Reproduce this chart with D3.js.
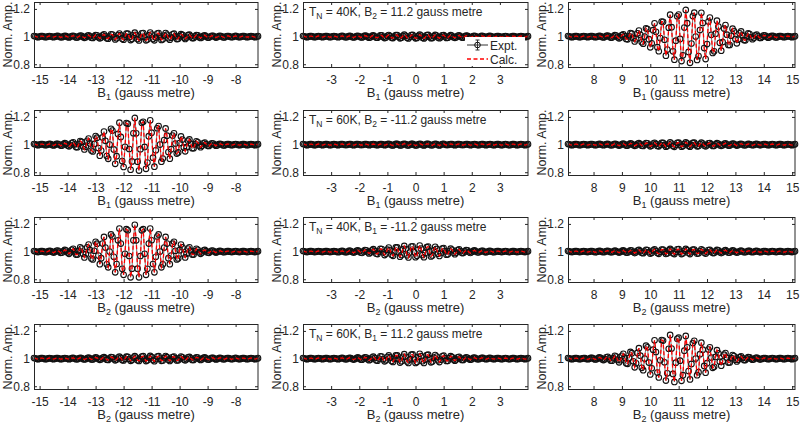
<!DOCTYPE html>
<html><head><meta charset="utf-8">
<script src="https://cdn.jsdelivr.net/npm/d3@7"></script>
<style>
body{margin:0;background:#fff}
svg{display:block}
text{font-family:"Liberation Sans",Arial,Helvetica,sans-serif;fill:#262626}
</style>
</head><body>
<svg id="chart" width="800" height="426"></svg>
<script>
// ---- data ----
const xDomains = [[-15.2, -7.2], [-4, 4], [7.1, 15.1]];
const xTicks = [[-15, -14, -13, -12, -11, -10, -9, -8], [-3, -2, -1, 0, 1, 2, 3], [8, 9, 10, 11, 12, 13, 14, 15]];
const yDomain = [0.78, 1.25];
const yTicks = [0.8, 1, 1.2];
const yTickLabels = ["0.8", "1", "1.2"];
const xLabelSub = ["1", "1", "2", "2"];
const annTemp = ["40K", "60K", "40K", "60K"];
const annField = ["2", "2", "1", "1"];
const annValue = ["11.2", "-11.2", "-11.2", "11.2"];
const legendLabels = ["Expt.", "Calc."];

const r1c1 = [1.004,1.002,.997,.996,.999,1.003,1.003,1.000,.996,.997,
1.001,1.004,1.002,.998,.996,.999,1.004,1.005,1.000,.995,
.996,1.001,1.005,1.003,.997,.994,.998,1.004,1.006,1.001,
.994,.994,1.001,1.007,1.005,.997,.991,.996,1.006,1.009,
1.002,.992,.990,1.001,1.011,1.009,.996,.987,.993,1.008,
1.016,1.004,.987,.985,1.000,1.016,1.015,.995,.979,.988,
1.011,1.022,1.008,.984,.977,.998,1.022,1.021,.996,.975,
.983,1.011,1.028,1.012,.982,.972,.995,1.024,1.025,.997,
.973,.979,1.010,1.029,1.015,.983,.973,.993,1.022,1.025,
1.000,.976,.980,1.007,1.025,1.014,.988,.977,.992,1.016,
1.021,1.002,.982,.984,1.003,1.017,1.012,.993,.983,.993,
1.010,1.014,1.002,.989,.989,1.001,1.011,1.008,.996,.990,
.995,1.005,1.009,1.002,.993,.993,1.000,1.006,1.005,.998,
.993,.997,1.003,1.006,1.002,.996,.994,1.000,1.004,1.004,
.999,.995,.997,1.002,1.005,1.002,.997,.996,.999,1.003,
1.003,1.000,.996,.997,1.001,1.004,1.002,.998,.996,.999,1.003];
const r1c2 = [1.004,1.002,.997,.996,.999,1.003,1.003,1.000,.996,.997,
1.001,1.004,1.002,.998,.996,.999,1.003,1.004,1.000,.996,
.997,1.001,1.004,1.002,.998,.995,.998,1.004,1.005,1.000,
.996,.996,1.001,1.005,1.003,.997,.994,.997,1.004,1.006,
1.001,.995,.994,1.001,1.007,1.005,.997,.992,.996,1.005,
1.009,1.002,.993,.992,1.000,1.009,1.008,.997,.989,.994,
1.006,1.011,1.004,.991,.989,.999,1.010,1.011,.998,.987,
.992,1.005,1.014,1.006,.991,.986,.998,1.011,1.012,.999,
.987,.990,1.005,1.014,1.007,.992,.986,.996,1.011,1.012,
1.000,.988,.990,1.003,1.012,1.007,.994,.988,.996,1.008,
1.010,1.001,.990,.992,1.002,1.010,1.006,.996,.991,.996,
1.006,1.008,1.001,.993,.993,1.001,1.007,1.005,.998,.994,
.997,1.003,1.006,1.002,.995,.995,1.000,1.005,1.004,.999,
.995,.997,1.003,1.005,1.002,.996,.995,1.000,1.003,1.003,
.999,.996,.997,1.002,1.004,1.002,.997,.996,.999,1.003,
1.003,1.000,.996,.997,1.001,1.004,1.002,.998,.996,.999,1.003];
const r1c3 = [1.004,1.002,.997,.996,.999,1.003,1.003,1.000,.996,.997,
1.001,1.004,1.002,.998,.996,.999,1.003,1.004,1.000,.996,
.997,1.001,1.005,1.003,.997,.994,.998,1.005,1.007,1.001,
.993,.993,1.002,1.010,1.007,.995,.987,.994,1.010,1.016,
1.003,.983,.980,1.002,1.025,1.021,.989,.965,.981,1.024,
1.044,1.013,.959,.948,1.000,1.060,1.054,.981,.922,.951,
1.046,1.096,1.035,.923,.894,.989,1.109,1.107,.977,.862,
.906,1.064,1.158,1.068,.893,.833,.970,1.147,1.159,.983,
.823,.865,1.065,1.193,1.097,.889,.810,.950,1.148,1.173,
1.000,.831,.859,1.047,1.172,1.098,.917,.837,.946,1.109,
1.138,1.013,.882,.893,1.021,1.115,1.072,.955,.898,.960,
1.058,1.083,1.014,.939,.939,1.006,1.057,1.040,.982,.951,
.978,1.024,1.037,1.009,.975,.973,1.000,1.023,1.018,.995,
.981,.990,1.008,1.015,1.004,.991,.990,.999,1.009,1.007,
.999,.992,.996,1.003,1.006,1.003,.996,.994,.999,1.004,
1.003,1.000,.996,.997,1.001,1.004,1.002,.998,.996,.999,1.003];
const r2c1 = [1.004,1.002,.997,.996,.999,1.003,1.003,1.000,.996,.997,
1.002,1.005,1.003,.997,.994,.998,1.005,1.006,1.000,.993,
.993,1.003,1.010,1.006,.994,.987,.995,1.011,1.016,1.002,
.982,.981,1.004,1.026,1.019,.987,.965,.984,1.027,1.044,
1.008,.957,.950,1.005,1.062,1.050,.975,.920,.957,1.052,
1.094,1.027,.917,.897,1.000,1.114,1.101,.965,.861,.916,
1.077,1.158,1.055,.881,.838,.984,1.156,1.150,.968,.818,
.878,1.081,1.193,1.081,.876,.812,.967,1.157,1.165,.983,
.825,.870,1.061,1.176,1.086,.905,.840,.959,1.118,1.134,
1.000,.876,.899,1.033,1.117,1.064,.946,.898,.967,1.065,
1.081,1.007,.935,.943,1.011,1.059,1.036,.978,.951,.981,
1.027,1.037,1.006,.974,.974,1.002,1.024,1.016,.993,.981,
.992,1.009,1.015,1.003,.991,.990,1.000,1.009,1.007,.998,
.992,.996,1.004,1.006,1.002,.996,.994,1.000,1.004,1.003,
.999,.996,.997,1.002,1.004,1.002,.997,.996,.999,1.003,
1.003,1.000,.996,.997,1.001,1.004,1.002,.998,.996,.999,1.003];
const r2c2 = [1.004,1.002,.997,.996,.999,1.003,1.003,1.000,.996,.997,
1.001,1.004,1.002,.998,.996,.999,1.003,1.004,1.000,.996,
.997,1.001,1.004,1.002,.998,.996,.999,1.003,1.004,1.000,
.997,.997,1.001,1.004,1.003,.998,.996,.998,1.003,1.004,
1.001,.997,.997,1.000,1.004,1.003,.999,.996,.998,1.002,
1.004,1.001,.997,.996,1.000,1.004,1.003,.999,.996,.998,
1.003,1.006,1.002,.996,.994,.999,1.005,1.005,.999,.994,
.996,1.003,1.006,1.003,.996,.994,.999,1.005,1.005,.999,
.994,.996,1.002,1.006,1.003,.997,.994,.998,1.005,1.005,
1.000,.995,.995,1.002,1.006,1.003,.997,.994,.998,1.004,
1.006,1.000,.997,.997,1.001,1.004,1.003,.998,.996,.998,
1.003,1.004,1.001,.997,.997,1.000,1.004,1.003,.999,.996,
.998,1.002,1.004,1.001,.997,.996,1.000,1.004,1.003,.999,
.996,.998,1.002,1.004,1.001,.997,.996,1.000,1.003,1.003,
.999,.996,.997,1.002,1.004,1.002,.997,.996,.999,1.003,
1.003,1.000,.996,.997,1.001,1.004,1.002,.998,.996,.999,1.003];
const r2c3 = [1.004,1.002,.997,.996,.999,1.003,1.003,1.000,.996,.997,
1.001,1.004,1.002,.998,.996,.999,1.003,1.004,1.000,.996,
.997,1.001,1.005,1.003,.998,.995,.998,1.004,1.005,1.000,
.995,.995,1.001,1.006,1.004,.997,.993,.997,1.004,1.007,
1.001,.993,.993,1.001,1.008,1.006,.997,.991,.996,1.006,
1.010,1.003,.992,.990,1.000,1.011,1.009,.997,.987,.993,
1.007,1.013,1.005,.990,.987,.999,1.013,1.012,.997,.985,
.990,1.006,1.016,1.007,.990,.984,.997,1.013,1.014,.999,
.985,.989,1.005,1.016,1.008,.991,.985,.996,1.012,1.014,
1.000,.987,.989,1.004,1.014,1.007,.994,.987,.996,1.009,
1.011,1.001,.990,.991,1.002,1.010,1.006,.996,.991,.996,
1.006,1.009,1.001,.993,.993,1.001,1.007,1.005,.998,.993,
.997,1.003,1.006,1.002,.995,.995,1.000,1.005,1.004,.999,
.995,.997,1.003,1.005,1.002,.997,.996,1.000,1.003,1.003,
.999,.996,.997,1.002,1.004,1.002,.997,.996,.999,1.003,
1.003,1.000,.996,.997,1.001,1.004,1.002,.998,.996,.999,1.003];
const r3c1 = [1.004,1.002,.997,.996,.999,1.003,1.003,1.000,.995,.996,
1.002,1.006,1.003,.997,.993,.998,1.006,1.007,1.000,.991,
.992,1.003,1.012,1.007,.993,.984,.994,1.013,1.020,1.002,
.978,.978,1.005,1.031,1.022,.984,.958,.981,1.031,1.051,
1.010,.950,.943,1.006,1.071,1.057,.971,.909,.952,1.058,
1.106,1.029,.908,.886,1.000,1.124,1.109,.962,.850,.910,
1.082,1.167,1.058,.875,.832,.984,1.162,1.154,.968,.814,
.876,1.081,1.194,1.081,.876,.814,.968,1.154,1.162,.984,
.832,.875,1.058,1.167,1.082,.910,.850,.962,1.109,1.124,
1.000,.886,.908,1.029,1.106,1.058,.952,.909,.971,1.057,
1.071,1.006,.943,.950,1.010,1.051,1.031,.981,.958,.984,
1.022,1.031,1.005,.978,.978,1.002,1.020,1.013,.994,.984,
.993,1.007,1.012,1.003,.992,.991,1.000,1.007,1.006,.998,
.993,.997,1.003,1.006,1.002,.996,.995,1.000,1.003,1.003,
.999,.996,.997,1.002,1.004,1.002,.997,.996,.999,1.003,
1.003,1.000,.996,.997,1.001,1.004,1.002,.998,.996,.999,1.003];
const r3c2 = [1.004,1.002,.997,.996,.999,1.003,1.003,1.000,.996,.997,
1.001,1.004,1.002,.998,.996,.999,1.003,1.004,1.000,.996,
.997,1.001,1.004,1.002,.998,.995,.998,1.004,1.005,1.000,
.995,.995,1.001,1.007,1.004,.997,.992,.997,1.005,1.009,
1.002,.992,.990,1.001,1.011,1.009,.996,.986,.993,1.009,
1.017,1.005,.985,.982,1.000,1.020,1.018,.994,.975,.985,
1.014,1.029,1.011,.977,.969,.997,1.030,1.030,.994,.963,
.975,1.017,1.041,1.018,.973,.958,.993,1.036,1.038,.996,
.959,.969,1.015,1.044,1.022,.975,.959,.989,1.032,1.036,
1.000,.965,.972,1.009,1.034,1.019,.984,.968,.989,1.021,
1.026,1.002,.977,.980,1.004,1.021,1.013,.992,.981,.992,
1.011,1.016,1.003,.989,.989,1.001,1.011,1.008,.996,.990,
.996,1.005,1.008,1.002,.994,.994,1.000,1.006,1.005,.998,
.994,.997,1.003,1.005,1.002,.996,.995,1.000,1.003,1.003,
.999,.996,.997,1.002,1.004,1.002,.997,.996,.999,1.003,
1.003,1.000,.996,.997,1.001,1.004,1.002,.998,.996,.999,1.003];
const r3c3 = [1.004,1.002,.997,.996,.999,1.003,1.003,1.000,.996,.997,
1.001,1.004,1.002,.998,.996,.999,1.003,1.004,1.000,.995,
.996,1.001,1.005,1.003,.998,.995,.998,1.004,1.006,1.001,
.995,.995,1.001,1.007,1.004,.997,.993,.997,1.005,1.008,
1.001,.993,.992,1.001,1.009,1.007,.997,.989,.995,1.007,
1.012,1.003,.990,.988,1.000,1.013,1.011,.996,.985,.991,
1.008,1.016,1.005,.989,.984,.998,1.015,1.014,.997,.983,
.988,1.008,1.019,1.008,.988,.982,.997,1.016,1.017,.998,
.982,.987,1.006,1.019,1.010,.990,.982,.995,1.014,1.015,
1.000,.985,.987,1.004,1.016,1.009,.992,.985,.995,1.011,
1.013,1.001,.989,.989,1.002,1.012,1.008,.995,.989,.995,
1.006,1.010,1.002,.992,.992,1.001,1.008,1.006,.997,.992,
.996,1.004,1.007,1.002,.995,.995,1.000,1.005,1.005,.998,
.995,.997,1.003,1.005,1.002,.996,.995,1.000,1.004,1.003,
.999,.996,.997,1.002,1.004,1.002,.997,.996,.999,1.003,
1.003,1.000,.996,.997,1.001,1.004,1.002,.998,.996,.999,1.003];
const r4c1 = [1.004,1.002,.997,.996,.999,1.003,1.003,1.000,.996,.997,
1.001,1.004,1.002,.998,.996,.999,1.003,1.004,1.000,.996,
.997,1.001,1.004,1.002,.998,.995,.998,1.004,1.005,1.000,
.996,.996,1.001,1.006,1.004,.997,.994,.997,1.004,1.007,
1.001,.994,.994,1.001,1.008,1.006,.997,.991,.996,1.006,
1.010,1.003,.992,.990,1.000,1.011,1.009,.997,.987,.993,
1.007,1.014,1.005,.989,.986,.999,1.014,1.013,.997,.984,
.989,1.007,1.017,1.007,.988,.983,.997,1.015,1.017,.998,
.982,.987,1.006,1.019,1.010,.989,.981,.995,1.015,1.017,
1.000,.984,.986,1.005,1.018,1.010,.992,.983,.994,1.011,
1.015,1.001,.986,.988,1.003,1.015,1.009,.994,.987,.995,
1.008,1.012,1.002,.990,.990,1.001,1.009,1.007,.997,.990,
.996,1.005,1.008,1.002,.994,.993,1.000,1.006,1.005,.998,
.994,.997,1.003,1.006,1.002,.996,.995,1.000,1.004,1.004,
.999,.995,.997,1.002,1.005,1.002,.997,.996,.999,1.003,
1.003,1.000,.996,.997,1.001,1.004,1.002,.998,.996,.999,1.003];
const r4c2 = [1.004,1.002,.997,.996,.999,1.003,1.003,1.000,.996,.997,
1.001,1.004,1.002,.998,.996,.999,1.003,1.004,1.000,.996,
.997,1.001,1.004,1.002,.998,.996,.998,1.004,1.005,1.000,
.996,.996,1.001,1.006,1.004,.997,.993,.997,1.004,1.008,
1.001,.993,.992,1.001,1.009,1.007,.996,.988,.994,1.007,
1.014,1.004,.988,.985,1.000,1.016,1.015,.995,.980,.988,
1.011,1.023,1.008,.982,.976,.998,1.023,1.023,.995,.971,
.981,1.013,1.032,1.013,.979,.968,.994,1.028,1.030,.997,
.968,.976,1.012,1.034,1.017,.981,.968,.992,1.025,1.028,
1.000,.973,.978,1.007,1.026,1.015,.987,.975,.992,1.016,
1.021,1.002,.983,.984,1.003,1.017,1.011,.993,.985,.994,
1.009,1.013,1.002,.990,.990,1.001,1.009,1.006,.997,.992,
.996,1.005,1.007,1.002,.995,.995,1.000,1.005,1.005,.999,
.995,.997,1.003,1.005,1.002,.997,.996,1.000,1.003,1.003,
.999,.996,.997,1.002,1.004,1.002,.997,.996,.999,1.003,
1.003,1.000,.996,.997,1.001,1.004,1.002,.998,.996,.999,1.003];
const r4c3 = [1.004,1.002,.997,.996,.999,1.003,1.003,1.000,.996,.997,
1.001,1.004,1.003,.997,.995,.998,1.005,1.005,1.000,.994,
.995,1.002,1.008,1.005,.995,.989,.996,1.009,1.013,1.001,
.986,.985,1.003,1.020,1.015,.990,.973,.988,1.020,1.034,
1.006,.966,.962,1.004,1.048,1.039,.980,.937,.966,1.041,
1.075,1.021,.933,.916,1.000,1.093,1.082,.971,.885,.930,
1.064,1.132,1.047,.899,.863,.987,1.134,1.130,.973,.841,
.893,1.071,1.171,1.072,.889,.831,.970,1.143,1.151,.985,
.839,.880,1.057,1.164,1.081,.910,.849,.961,1.112,1.129,
1.000,.880,.902,1.032,1.115,1.064,.947,.898,.967,1.065,
1.082,1.007,.933,.941,1.012,1.061,1.038,.977,.949,.980,
1.028,1.040,1.006,.971,.972,1.003,1.025,1.018,.992,.979,
.991,1.010,1.016,1.004,.989,.989,1.000,1.010,1.008,.998,
.992,.995,1.004,1.007,1.002,.996,.994,.999,1.004,1.004,
.999,.996,.997,1.002,1.004,1.002,.997,.996,.999,1.003,
1.003,1.000,.996,.997,1.001,1.004,1.002,.998,.996,.999,1.003];

// experimental and calculated series (calculated curve coincides with data at this resolution)
const expt = [[r1c1, r1c2, r1c3], [r2c1, r2c2, r2c3], [r3c1, r3c2, r3c3], [r4c1, r4c2, r4c3]];
const calc = [[r1c1, r1c2, r1c3], [r2c1, r2c2, r2c3], [r3c1, r3c2, r3c3], [r4c1, r4c2, r4c3]];

// ---- layout ----
const colLeft = [34, 303, 568], colW = [224, 225, 227];
const rowTop = [2, 110, 217, 324], H = 65;
const axisColor = "#262626";

const svg = d3.select("#chart");

function panel(r, c) {
  const W = colW[c];
  const g = svg.append("g").attr("transform", `translate(${colLeft[c]},${rowTop[r]})`);
  const x = d3.scaleLinear().domain(xDomains[c]).range([0, W]);
  const y = d3.scaleLinear().domain(yDomain).range([H, 0]);
  const vals = expt[r][c], cvals = calc[r][c];
  const idx = d3.scalePoint().domain(d3.range(vals.length)).range([x(xDomains[c][0]), x(xDomains[c][1])]);

  // axes
  const ax = g.append("g").attr("transform", `translate(0,${H})`)
    .call(d3.axisBottom(x).tickValues(xTicks[c]).tickSizeInner(-3).tickSizeOuter(0).tickPadding(8)
      .tickFormat(d => d < 0 ? "-" + Math.abs(d) : String(d)));
  const at = g.append("g").call(d3.axisTop(x).tickValues(xTicks[c]).tickSizeInner(-3).tickSizeOuter(0).tickFormat(""));
  const ay = g.append("g").call(d3.axisLeft(y).tickValues(yTicks).tickSizeInner(-3).tickSizeOuter(0).tickPadding(4)
      .tickFormat((d, i) => yTickLabels[i]));
  const ar = g.append("g").attr("transform", `translate(${W},0)`)
    .call(d3.axisRight(y).tickValues(yTicks).tickSizeInner(-3).tickSizeOuter(0).tickFormat(""));
  [ax, at, ay, ar].forEach(a => {
    a.select(".domain").remove();
    a.selectAll("line").attr("stroke", axisColor);
    a.selectAll("text").attr("font-size", 12).attr("fill", axisColor)
      .attr("font-family", '"Liberation Sans",Arial,sans-serif');
  });

  // experimental: connecting line + circles
  const line = d3.line().x((d, i) => idx(i)).y(d => y(d));
  g.append("path").datum(vals).attr("d", line).attr("fill", "none")
    .attr("stroke", "#555").attr("stroke-width", 0.8);
  g.append("g").selectAll("circle").data(vals).join("circle")
    .attr("cx", (d, i) => idx(i)).attr("cy", d => y(d)).attr("r", 2.8)
    .attr("fill", "none").attr("stroke", "#111").attr("stroke-width", 1.1);
  // calculated: red dashed
  g.append("path").datum(cvals).attr("d", line).attr("fill", "none")
    .attr("stroke", "#ff0000").attr("stroke-width", 1.3).attr("stroke-dasharray", "4,2.5");

  // frame
  g.append("rect").attr("x", 0.5).attr("y", 0.5).attr("width", W - 0.5).attr("height", H)
    .attr("fill", "none").attr("stroke", axisColor).attr("stroke-width", 1);

  // x label
  const xl = g.append("text").attr("x", W / 2).attr("y", H + 30).attr("text-anchor", "middle").attr("font-size", 13);
  xl.append("tspan").text("B");
  xl.append("tspan").attr("font-size", 9).attr("dy", 3).text(xLabelSub[r]);
  xl.append("tspan").attr("dy", -3).text(" (gauss metre)");

  // y label
  g.append("text").attr("transform", `translate(-22,${H / 2}) rotate(-90)`).attr("text-anchor", "middle")
    .attr("font-size", 12.5).text("Norm. Amp.");

  if (c === 1) {
    const t = g.append("text").attr("x", 6).attr("y", 14).attr("font-size", 12);
    t.append("tspan").text("T");
    t.append("tspan").attr("font-size", 8.5).attr("dy", 3).text("N");
    t.append("tspan").attr("dy", -3).text(` = ${annTemp[r]}, B`);
    t.append("tspan").attr("font-size", 8.5).attr("dy", 3).text(annField[r]);
    t.append("tspan").attr("dy", -3).text(` = ${annValue[r]} gauss metre`);
  }
  if (r === 0 && c === 1) {
    const lg = g.append("g").attr("transform", `translate(${W - 61},0)`);
    const ey = 43, cy = 57;
    lg.append("rect").attr("x", -2).attr("y", ey - 8).attr("width", 60).attr("height", 29).attr("fill", "#fff");
    lg.append("line").attr("x1", 0).attr("x2", 21).attr("y1", ey).attr("y2", ey).attr("stroke", "#333").attr("stroke-width", 1);
    lg.append("line").attr("x1", 10.5).attr("x2", 10.5).attr("y1", ey - 5).attr("y2", ey + 5).attr("stroke", "#333");
    lg.append("line").attr("x1", 8.5).attr("x2", 12.5).attr("y1", ey - 5).attr("y2", ey - 5).attr("stroke", "#333");
    lg.append("line").attr("x1", 8.5).attr("x2", 12.5).attr("y1", ey + 5).attr("y2", ey + 5).attr("stroke", "#333");
    lg.append("circle").attr("cx", 10.5).attr("cy", ey).attr("r", 2.8).attr("fill", "none").attr("stroke", "#111");
    lg.append("text").attr("x", 23).attr("y", ey + 4.5).attr("font-size", 12).text(legendLabels[0]);
    lg.append("line").attr("x1", 0).attr("x2", 21).attr("y1", cy).attr("y2", cy).attr("stroke", "#ff0000")
      .attr("stroke-width", 1.6).attr("stroke-dasharray", "4,2.5");
    lg.append("text").attr("x", 23).attr("y", cy + 4.5).attr("font-size", 12).text(legendLabels[1]);
  }
}

for (let r = 0; r < 4; r++) for (let c = 0; c < 3; c++) panel(r, c);
</script>
</body></html>
